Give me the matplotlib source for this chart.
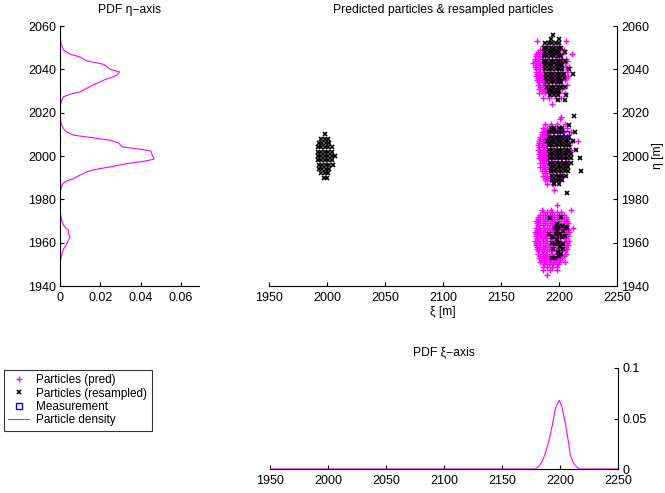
import numpy as np
import matplotlib
matplotlib.use("Agg")
from matplotlib import pyplot as plt

plt.rcParams['font.family'] = ['Liberation Sans', 'DejaVu Sans']
plt.rcParams['font.size'] = 9

MAGENTA = (1.0, 0.0, 1.0)

# PDF along eta (value, eta)
pdf_eta_y = [1940, 1949, 1952, 1955, 1956.9, 1958.9, 1961.2, 1962.7, 1964.3, 1965.8,
             1966.6, 1968.1, 1970.4, 1973.5, 1979.6, 1984.2, 1987.3, 1988.5, 1989.6,
             1991.2, 1993.0, 1993.9, 1995.0, 1996.5, 1997.6, 1998.5, 2000.4, 2002.4,
             2003.5, 2004.2, 2006.0, 2007.3, 2008.8, 2009.6, 2011.1, 2012.7, 2015.0,
             2019.6, 2022.7, 2025.7, 2027.3, 2028.5, 2029.6, 2031.6, 2033.4, 2035.0,
             2037.3, 2038.8, 2040.0, 2042.3, 2044.0, 2045.7, 2047.0, 2049.0, 2052.0,
             2056.5, 2060]
pdf_eta_v = [0, 0, 0.0003, 0.001, 0.0017, 0.003, 0.0042, 0.005, 0.0042, 0.0042,
             0.003, 0.0017, 0.0008, 0.0002, 0, 0.0003, 0.0013, 0.0033, 0.0067,
             0.010, 0.0142, 0.0183, 0.025, 0.0333, 0.0417, 0.0467, 0.0458, 0.045,
             0.0367, 0.031, 0.029, 0.025, 0.0133, 0.0067, 0.0033, 0.0017, 0.0005,
             0, 0, 0.0008, 0.0017, 0.005, 0.010, 0.014, 0.018, 0.0217,
             0.0283, 0.0295, 0.025, 0.0217, 0.013, 0.010, 0.005, 0.0017, 0.0005,
             0, 0]

# PDF along xi
pdf_xi_x = [1950, 2178.7, 2181.6, 2184.5, 2187.4, 2190.2, 2193.1, 2196.0, 2199.4,
            2201.7, 2204.6, 2207.5, 2208.9, 2211.8, 2214.7, 2217.0, 2250]
pdf_xi_v = [0, 0, 0.0023, 0.0072, 0.0155, 0.027, 0.0418, 0.060, 0.068,
            0.0615, 0.045, 0.0253, 0.0138, 0.0056, 0.0016, 0, 0]

# predicted particles, rows of (eta, [xi...])
pred_north = [
    (2053, [2181, 2206]),
    (2051, [2186, 2190, 2195, 2200]),
    (2049, [2184, 2188, 2192, 2196, 2200, 2204]),
    (2048, [2182, 2185]),
    (2047, [2180, 2183, 2187, 2191, 2195, 2199, 2203, 2211]),
    (2046, [2180, 2184]),
    (2045, [2179, 2182, 2186, 2190, 2194, 2198, 2202, 2206]),
    (2044, [2179, 2183, 2207]),
    (2043, [2178, 2181, 2185, 2189, 2193, 2197, 2201, 2205]),
    (2042, [2180, 2184]),
    (2041, [2179, 2182, 2186, 2190, 2194, 2198, 2202, 2206, 2209]),
    (2040, [2180, 2184, 2207]),
    (2039, [2180, 2183, 2187, 2191, 2195, 2199, 2203, 2207]),
    (2038, [2181, 2185]),
    (2037, [2180, 2184, 2188, 2192, 2196, 2200, 2204, 2208]),
    (2036, [2182, 2186, 2206]),
    (2035, [2181, 2185, 2189, 2193, 2197, 2201, 2205]),
    (2034, [2183, 2187]),
    (2033, [2182, 2186, 2190, 2194, 2198, 2202, 2207]),
    (2032, [2184, 2188]),
    (2031, [2183, 2187, 2191, 2195, 2199, 2203]),
    (2030, [2185, 2189]),
    (2029, [2183, 2188, 2192, 2196, 2200, 2205]),
    (2027, [2186, 2191, 2197, 2202]),
    (2024, [2194]),
    (2018, [2202]),
]
pred_mid = [
    (2017, [2201]),
    (2015, [2188, 2193, 2198, 2205]),
    (2013, [2186, 2190, 2194, 2198, 2202, 2207]),
    (2012, [2187, 2191]),
    (2011, [2185, 2188, 2192, 2196, 2200, 2204, 2210]),
    (2010, [2185, 2189]),
    (2009, [2184, 2187, 2191, 2195, 2199, 2203, 2207]),
    (2008, [2184, 2188]),
    (2007, [2183, 2186, 2190, 2194, 2198, 2202, 2206, 2211, 2216]),
    (2006, [2183, 2187]),
    (2005, [2182, 2185, 2189, 2193, 2197, 2201, 2205, 2209]),
    (2004, [2183, 2187]),
    (2003, [2182, 2186, 2190, 2194, 2198, 2202, 2206, 2210]),
    (2002, [2184, 2188]),
    (2001, [2183, 2185, 2189, 2193, 2197, 2201, 2205, 2209]),
    (2000, [2184, 2188]),
    (1999, [2183, 2186, 2190, 2194, 2198, 2202, 2206]),
    (1998, [2185, 2189]),
    (1997, [2184, 2187, 2191, 2195, 2199, 2203, 2207]),
    (1996, [2186, 2190]),
    (1995, [2184, 2188, 2192, 2196, 2200, 2204]),
    (1994, [2187, 2191]),
    (1993, [2185, 2189, 2193, 2197, 2201]),
    (1992, [2188, 2192]),
    (1991, [2186, 2190, 2194, 2198, 2203]),
    (1990, [2189, 2193]),
    (1989, [2188, 2192, 2196, 2200]),
    (1987, [2190, 2195]),
    (1984.5, [2196]),
]
pred_south = [
    (1977.5, [2198]),
    (1975, [2185, 2193, 2210]),
    (1974, [2186, 2190, 2194, 2198, 2202]),
    (1973, [2184, 2188, 2192, 2196, 2200, 2204]),
    (1972, [2182, 2186, 2190, 2194, 2198, 2202, 2206]),
    (1971, [2182, 2186, 2190, 2194, 2198, 2202, 2206]),
    (1970, [2180, 2184, 2188, 2192, 2196, 2200, 2204, 2207]),
    (1969, [2181, 2184, 2188, 2192, 2196, 2200, 2204, 2208]),
    (1968, [2182, 2186, 2190, 2194, 2198, 2202, 2206]),
    (1967, [2180, 2183, 2187, 2191, 2195, 2199, 2203, 2207, 2212]),
    (1966, [2181, 2184, 2188, 2192, 2196, 2200, 2204, 2208]),
    (1965, [2179, 2182, 2186, 2190, 2194, 2198, 2202, 2206, 2209]),
    (1964, [2180, 2184, 2188, 2192, 2196, 2200, 2204, 2207]),
    (1963, [2180, 2184, 2188, 2192, 2196, 2200, 2204, 2208]),
    (1962, [2181, 2185, 2189, 2193, 2197, 2201, 2205]),
    (1961, [2179, 2182, 2186, 2190, 2194, 2198, 2202, 2206, 2209]),
    (1960, [2180, 2184, 2188, 2192, 2196, 2200, 2204, 2207]),
    (1959, [2180, 2184, 2188, 2192, 2196, 2200, 2204, 2208]),
    (1958, [2181, 2186, 2190, 2194, 2198, 2202, 2206]),
    (1957, [2181, 2183, 2187, 2191, 2195, 2199, 2203, 2207]),
    (1956, [2182, 2185, 2189, 2193, 2197, 2201, 2205]),
    (1955, [2182, 2186, 2190, 2194, 2198, 2202, 2206]),
    (1954, [2184, 2188, 2192, 2196, 2200, 2204]),
    (1953, [2183, 2187, 2191, 2195, 2199, 2203]),
    (1952, [2185, 2189, 2193, 2197, 2201]),
    (1951, [2184, 2188, 2192, 2196, 2200, 2205]),
    (1950, [2187, 2191, 2195, 2199]),
    (1949, [2186, 2190, 2194, 2198]),
    (1947.5, [2186, 2192, 2198]),
    (1945, [2190]),
]

# resampled particles
res_origin = [
    (2010, [1998]),
    (2008, [1995, 1998, 2001]),
    (2006, [1993, 1996, 1999, 2002]),
    (2004, [1992, 1995, 1998, 2001, 2004]),
    (2002, [1992, 1995, 1998, 2001, 2004]),
    (2000, [1992, 1995, 1998, 2001, 2004, 2007]),
    (1998, [1992, 1995, 1998, 2001, 2004]),
    (1996, [1993, 1996, 1999, 2002, 2005]),
    (1994, [1993, 1996, 1999, 2002]),
    (1992, [1995, 1998, 2001]),
    (1990, [1997, 2000]),
]
res_north = [
    (2056, [2195]),
    (2054, [2193, 2200]),
    (2052, [2188, 2191, 2194, 2197, 2200]),
    (2050, [2187, 2190, 2193, 2196, 2199, 2202]),
    (2048, [2188, 2191, 2194, 2197, 2200, 2205]),
    (2046, [2187, 2190, 2193, 2196, 2199, 2202]),
    (2044, [2187, 2190, 2193, 2196, 2199, 2202, 2205]),
    (2042, [2188, 2191, 2194, 2197, 2200, 2203]),
    (2040, [2188, 2191, 2194, 2197, 2200, 2203, 2209]),
    (2038, [2189, 2192, 2195, 2198, 2201, 2204, 2212]),
    (2036, [2189, 2192, 2195, 2198, 2201, 2204]),
    (2034, [2190, 2193, 2196, 2199, 2202]),
    (2032, [2190, 2193, 2196, 2199, 2202, 2205]),
    (2030, [2191, 2194, 2197, 2200]),
    (2028, [2192, 2196, 2199, 2206]),
    (2026, [2199, 2205]),
]
res_mid = [
    (2018.5, [2213]),
    (2014.5, [2209]),
    (2013, [2193, 2196, 2200, 2203]),
    (2011, [2191, 2194, 2197, 2200, 2203, 2214]),
    (2009, [2191, 2194, 2197, 2200, 2203, 2206, 2209]),
    (2007, [2190, 2193, 2196, 2199, 2202, 2205, 2208, 2212]),
    (2005, [2191, 2194, 2197, 2200, 2203, 2206, 2209]),
    (2003, [2191, 2194, 2197, 2200, 2203, 2206, 2209, 2215]),
    (2001, [2192, 2195, 2198, 2201, 2204, 2207, 2210]),
    (1999, [2192, 2195, 2198, 2201, 2204, 2207, 2210, 2218]),
    (1997, [2192, 2195, 2198, 2201, 2204, 2207, 2210]),
    (1995, [2193, 2196, 2199, 2202, 2205, 2208]),
    (1993, [2193, 2196, 2199, 2202, 2205, 2208, 2219]),
    (1991, [2194, 2197, 2200, 2203, 2206]),
    (1989, [2194, 2197, 2200, 2203]),
    (1987, [2196, 2200]),
    (1983, [2207]),
]
res_south_x = [2192.2, 2201.7, 2196.6, 2199.4, 2202.3, 2205.8, 2203.7, 2200.9, 2195.0, 2198.0,
               2202.3, 2205.2, 2193.7, 2196.6, 2200.3, 2203.7, 2200.9, 2203.2, 2195.0, 2199.4,
               2201.4, 2193.7, 2196.6, 2200.3, 2191.6, 2207.2, 2198.0, 2197.4, 2198.5, 2193.7]
res_south_y = [1971.3, 1971.9, 1967.0, 1967.0, 1967.7, 1967.4, 1965.4, 1963.9, 1962.4, 1961.6,
               1962.4, 1963.1, 1960.0, 1959.3, 1960.0, 1959.3, 1957.8, 1957.0, 1957.0, 1955.5,
               1954.7, 1952.7, 1952.7, 1953.9, 1963.9, 1967.0, 1965.4, 1963.9, 1968.8, 1962.4]

meas_x = [2205.8]
meas_y = [2010.0]

legend_labels = ['Particles (pred)', 'Particles (resampled)', 'Measurement', 'Particle density']


def unpack(*clusters):
    xs, ys = [], []
    for rows in clusters:
        for y, xr in rows:
            xs.extend(xr)
            ys.extend([y] * len(xr))
    return np.array(xs, float), np.array(ys, float)


pred_x, pred_y = unpack(pred_north, pred_mid, pred_south)
res_x, res_y = unpack(res_origin, res_north, res_mid)
res_x = np.concatenate([res_x, res_south_x])
res_y = np.concatenate([res_y, res_south_y])

fig = plt.figure(figsize=(6.65, 4.93), dpi=100)
W, H = 665.0, 493.0


def box(x0, x1, y0, y1):
    return [x0 / W, 1 - y1 / H, (x1 - x0) / W, (y1 - y0) / H]


def matlab_style(ax, side):
    for s in ['top', 'left', 'right']:
        ax.spines[s].set_visible(False)
    ax.spines[side].set_visible(True)
    for s in ax.spines.values():
        s.set_linewidth(0.8)
    ax.tick_params(direction='in', length=3, width=0.8, labelsize=9, pad=3)
    ax.tick_params(axis='x', pad=4.5)
    if side == 'right':
        ax.yaxis.tick_right()
        ax.yaxis.set_label_position('right')


# left: PDF eta
ax_l = fig.add_axes(box(60, 199, 26, 286))
line, = ax_l.plot(pdf_eta_v, pdf_eta_y, color=MAGENTA, lw=0.8)
ax_l.set_xlim(0, 0.069)
ax_l.set_ylim(1940, 2060)
ax_l.set_xticks([0, 0.02, 0.04, 0.06])
ax_l.set_xticklabels(['0', '0.02', '0.04', '0.06'])
ax_l.set_yticks(np.arange(1940, 2061, 20))
matlab_style(ax_l, 'left')
ax_l.set_title('PDF η−axis', fontsize=8.75, pad=9)

# main scatter
ax_m = fig.add_axes(box(269, 617, 26, 286))
h_pred, = ax_m.plot(pred_x, pred_y, '+', color=MAGENTA, ms=4.3, mew=1.0)
h_res, = ax_m.plot(res_x, res_y, 'x', color='k', ms=3.3, mew=1.2)
h_meas, = ax_m.plot(meas_x, meas_y, 's', mfc='none', mec='b', ms=5, mew=1.0)
ax_m.set_xlim(1950, 2250)
ax_m.set_ylim(1940, 2060)
ax_m.set_xticks(np.arange(1950, 2251, 50))
ax_m.set_yticks(np.arange(1940, 2061, 20))
matlab_style(ax_m, 'right')
ax_m.set_xlabel('ξ [m]', fontsize=8.75, labelpad=1)
ax_m.set_ylabel('η [m]', fontsize=8.75, labelpad=2)
ax_m.set_title('Predicted particles & resampled particles', fontsize=8.75, pad=9)

# bottom: PDF xi
ax_b = fig.add_axes(box(270, 618, 368, 469))
ax_b.plot(pdf_xi_x, pdf_xi_v, color=MAGENTA, lw=0.8)
ax_b.set_xlim(1950, 2250)
ax_b.set_ylim(0, 0.1)
ax_b.set_xticks(np.arange(1950, 2251, 50))
ax_b.set_yticks([0, 0.05, 0.1])
ax_b.set_yticklabels(['0', '0.05', '0.1'])
matlab_style(ax_b, 'right')
ax_b.set_title('PDF ξ−axis', fontsize=8.75, pad=9)

leg = fig.legend([h_pred, h_res, h_meas, line], legend_labels,
                 loc='upper left', bbox_to_anchor=(4 / W, 1 - 370 / H),
                 fontsize=8.5, frameon=True, fancybox=False, borderpad=0.35,
                 labelspacing=0.12, handlelength=1.8, handletextpad=0.6,
                 borderaxespad=0)
leg.get_frame().set_edgecolor('k')
leg.get_frame().set_linewidth(0.8)

fig.savefig('out.png', dpi=100)
